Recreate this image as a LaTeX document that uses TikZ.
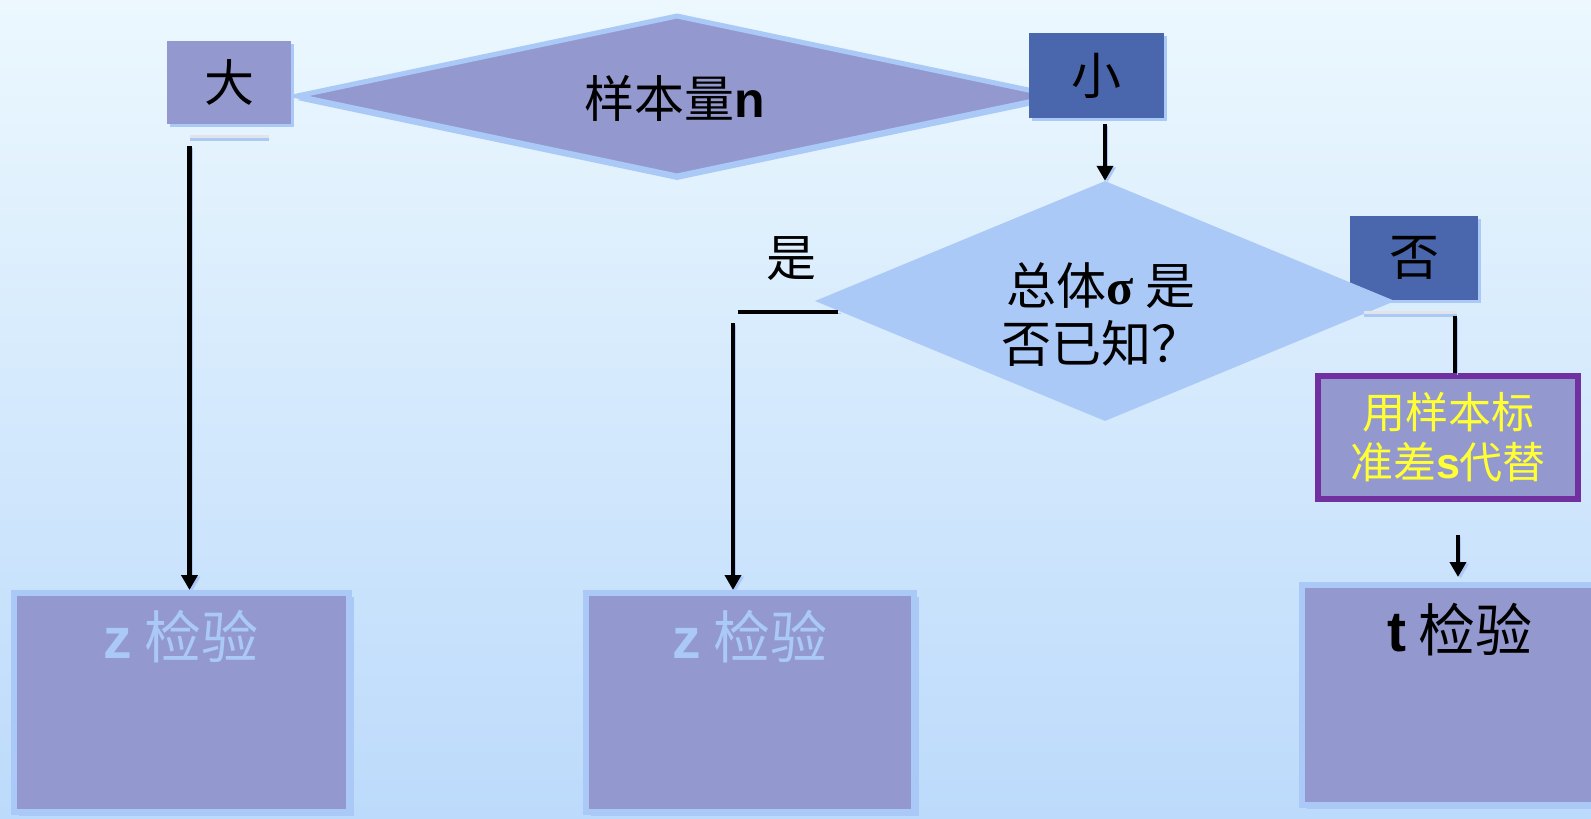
\documentclass[tikz,border=0pt]{standalone}
\usepackage{fontspec}
\newfontfamily\cjk{Noto Sans CJK SC}
\newfontfamily\lat{Liberation Sans}
\newfontfamily\ser{Liberation Serif}
\usetikzlibrary{shapes.geometric,arrows.meta,shadows}
\definecolor{lav}{RGB}{147,153,206}
\definecolor{lblue}{RGB}{170,201,247}
\definecolor{dblue}{RGB}{74,102,172}
\definecolor{purp}{RGB}{112,48,160}
\definecolor{yel}{RGB}{255,255,51}
\definecolor{bgtop}{RGB}{236,248,254}
\definecolor{bgbot}{RGB}{188,218,251}
\definecolor{stubgray}{RGB}{226,228,232}
\tikzset{
  sbox/.style={rectangle, fill=lav, draw=none, inner sep=0pt,
    drop shadow={fill=lblue, opacity=1, shadow xshift=3pt, shadow yshift=-3pt}},
  rbox/.style={rectangle, fill=lav, draw=lblue, line width=6pt, inner sep=0pt,
    drop shadow={fill=lblue, opacity=1, shadow xshift=5pt, shadow yshift=-4pt}},
  bigtxt/.style={inner sep=0pt, font=\cjk\fontsize{50pt}{56pt}\selectfont},
  midtxt/.style={inner sep=0pt, align=center, font=\cjk\fontsize{50pt}{58pt}\selectfont},
  ztxt/.style={inner sep=0pt, font=\cjk\fontsize{57pt}{60pt}\selectfont},
  lineshadow/.style={preaction={draw=lblue, transform canvas={shift={(2.5pt,-1.5pt)}}}},
  arr/.style={draw=black, line width=4.5pt, -{Triangle[width=16pt,length=15pt]}, lineshadow},
  blk/.style={draw=black, line width=3.5pt, lineshadow},
  stub/.style={draw=lblue, line width=5pt, postaction={draw=stubgray, line width=2.5pt, transform canvas={yshift=1.5pt}}},
}
\begin{document}
\begin{tikzpicture}[x=1pt,y=-1pt]
\shade[top color=bgtop, bottom color=bgbot] (0,0) rectangle (1591,819);
\useasboundingbox (0,0) rectangle (1591,819);
\clip (0,0) rectangle (1591,819);

% top diamond
\node[diamond, fill=lav, draw=lblue, line width=5pt, minimum width=762pt, minimum height=162pt, inner sep=0pt,
  drop shadow={fill=lblue, opacity=1, shadow xshift=0pt, shadow yshift=-4pt}] (d1) at (677,96) {};
\node[midtxt] (d1t) at (675,98) {样本量{\lat\bfseries n}};

\node[sbox, minimum width=124pt, minimum height=83pt, bigtxt] (big) at (229,82) {大};
\node[sbox, fill=dblue, minimum width=135pt, minimum height=85pt, bigtxt] (small) at (1096.5,75.5) {小};

% right decision
\node[sbox, fill=dblue, minimum width=128pt, minimum height=84pt, bigtxt] (no) at (1414,258) {否};
\node[diamond, fill=lblue, minimum width=580pt, minimum height=240pt, inner sep=0pt] (d2) at (1105,301) {};
\node[midtxt] (d2t) at (1101,315) {总体{\ser\bfseries σ} 是\\否已知？};
\node[bigtxt] (yes) at (791,259) {是};

% purple box
\node[rectangle, fill=lav, draw=purp, line width=6pt, minimum width=260pt, minimum height=123pt, inner sep=0pt,
  align=center, text=yel, font=\cjk\fontsize{43pt}{50pt}\selectfont,
  drop shadow={fill=gray!50, opacity=1, shadow xshift=0pt, shadow yshift=-2pt}] (sd) at (1448,437.5) {用样本标\\准差{\lat\bfseries s}代替};

% bottom boxes
\node[rbox, minimum width=335pt, minimum height=219pt] (zA) at (181.5,702.5) {};
\node[ztxt, text=lblue] (zAt) at (181,637) {{\lat\bfseries z} 检验};
\node[rbox, minimum width=328pt, minimum height=219pt] (zB) at (750,702.5) {};
\node[ztxt, text=lblue] (zBt) at (750,637) {{\lat\bfseries z} 检验};
\node[rbox, minimum width=330pt, minimum height=220pt] (tB) at (1467,695) {};
\node[ztxt, text=black] (tBt) at (1460,630) {{\lat\bfseries t} 检验};

% connectors
\coordinate (s1a) at (190,138);
\coordinate (s1b) at (269,138);
\draw[stub] (s1a) -- (s1b);
\coordinate (a1s) at (189.5,146);
\draw[arr] (a1s) -- (a1s |- zA.north);

\draw[arr] ([yshift=-6pt]small.south -| d2.north) -- (d2.north);

\coordinate (yl) at (738,312);
\coordinate (yr) at (838,312);
\draw[blk] (yl) -- (yr);
\coordinate (a2s) at (733,323);
\draw[arr] (a2s) -- (a2s |- zB.north);

\coordinate (s2a) at (1364,314);
\coordinate (s2b) at (1457,314);
\draw[stub] (s2a) -- (s2b);
\coordinate (v2) at (1455,316);
\draw[blk] (v2) -- (v2 |- sd.north);

\coordinate (a4s) at (1458,535);
\draw[arr] (a4s) -- ([yshift=5pt]a4s |- tB.north);
\end{tikzpicture}
\end{document}
